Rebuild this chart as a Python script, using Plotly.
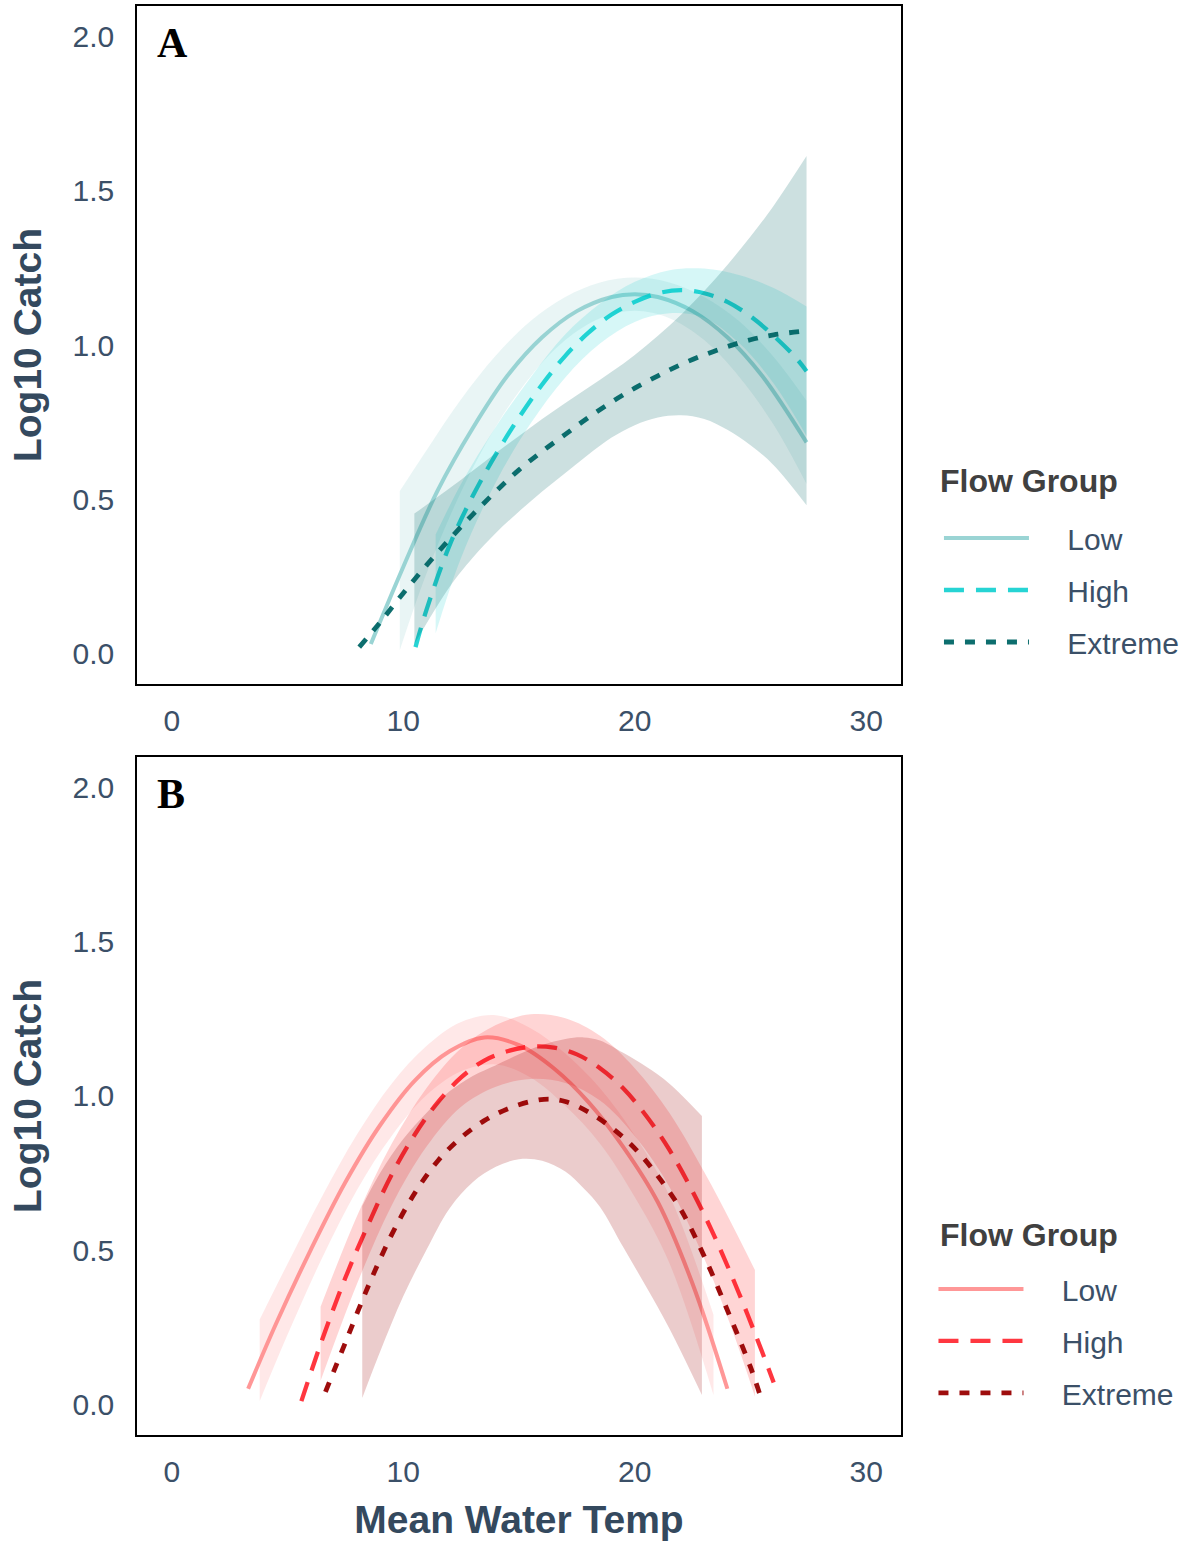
import plotly.graph_objects as go

# ---------------- Panel A (teal) ----------------
A_low_x = [8.6, 10.0, 11.5, 13.0, 14.5, 16.0, 17.5, 19.0, 20.0, 21.0, 22.5, 24.0, 25.5, 27.42]
A_low_y = [0.03, 0.28, 0.53, 0.73, 0.90, 1.025, 1.11, 1.156, 1.165, 1.156, 1.11, 1.025, 0.90, 0.684]
A_low_bx = [9.85, 11.0, 12.5, 14.0, 15.5, 17.0, 18.5, 20.0, 21.5, 23.0, 24.5, 26.0, 27.42]
A_low_up = [0.526, 0.658, 0.824, 0.966, 1.078, 1.156, 1.203, 1.219, 1.203, 1.156, 1.078, 0.961, 0.819]
A_low_lo = [0.01, 0.258, 0.524, 0.736, 0.898, 1.016, 1.087, 1.111, 1.087, 1.016, 0.898, 0.741, 0.549]

A_high_x = [10.53, 11.0, 12.0, 13.0, 14.0, 15.0, 16.0, 17.0, 18.0, 19.0, 20.0, 21.0, 22.0, 23.0, 24.0, 25.0, 26.0, 27.0, 27.42]
A_high_y = [0.02, 0.14, 0.35, 0.51, 0.645, 0.765, 0.872, 0.965, 1.04, 1.099, 1.14, 1.168, 1.178, 1.168, 1.14, 1.093, 1.03, 0.955, 0.915]
A_high_bx = [11.4, 12.5, 14.0, 15.5, 17.0, 18.5, 20.0, 21.5, 23.0, 24.5, 26.0, 27.42]
A_high_up = [0.385, 0.55, 0.735, 0.895, 1.035, 1.135, 1.205, 1.243, 1.248, 1.227, 1.185, 1.125]
A_high_lo = [0.065, 0.31, 0.555, 0.745, 0.895, 1.005, 1.075, 1.103, 1.088, 1.007, 0.875, 0.705]

A_ext_x = [8.1, 9.0, 10.0, 11.0, 12.0, 13.0, 14.0, 15.0, 16.0, 17.0, 18.0, 19.0, 20.0, 21.0, 22.0, 23.0, 24.0, 25.0, 26.0, 27.42]
A_ext_y = [0.02, 0.10, 0.195, 0.285, 0.37, 0.45, 0.525, 0.595, 0.655, 0.71, 0.765, 0.815, 0.86, 0.90, 0.937, 0.968, 0.995, 1.017, 1.033, 1.046]
A_ext_bx = [10.48, 12.0, 13.0, 14.0, 15.0, 16.0, 17.0, 18.0, 19.0, 20.0, 21.0, 22.0, 23.0, 24.0, 25.0, 26.0, 27.42]
A_ext_up = [0.453, 0.535, 0.592, 0.65, 0.705, 0.76, 0.812, 0.862, 0.913, 0.968, 1.03, 1.098, 1.175, 1.26, 1.352, 1.452, 1.613]
A_ext_lo = [0.03, 0.215, 0.31, 0.39, 0.46, 0.525, 0.585, 0.645, 0.70, 0.74, 0.765, 0.772, 0.76, 0.725, 0.675, 0.61, 0.48]

# ---------------- Panel B (red) ----------------
B_low_x = [3.3, 4.5, 6.0, 7.5, 9.0, 10.5, 12.0, 13.5, 15.0, 16.5, 18.0, 19.5, 21.0, 22.5, 24.0]
B_low_y = [0.05, 0.26, 0.50, 0.72, 0.905, 1.05, 1.145, 1.19, 1.165, 1.09, 0.98, 0.835, 0.655, 0.39, 0.05]
B_low_bx = [3.8, 5.0, 6.5, 8.0, 9.5, 11.0, 12.5, 14.0, 15.5, 17.0, 18.5, 20.0, 21.5, 23.4]
B_low_up = [0.275, 0.455, 0.675, 0.875, 1.04, 1.162, 1.24, 1.262, 1.22, 1.138, 1.025, 0.872, 0.677, 0.29]
B_low_lo = [0.01, 0.225, 0.475, 0.695, 0.87, 1.002, 1.08, 1.102, 1.06, 0.968, 0.845, 0.672, 0.457, 0.03]

B_high_x = [5.6, 6.5, 7.5, 8.5, 9.5, 10.5, 11.5, 12.5, 13.5, 14.5, 15.5, 16.5, 17.5, 18.5, 19.5, 20.5, 21.5, 22.5, 23.5, 24.5, 25.5, 26.0]
B_high_y = [0.01, 0.21, 0.41, 0.585, 0.745, 0.875, 0.98, 1.06, 1.115, 1.145, 1.16, 1.157, 1.135, 1.09, 1.025, 0.935, 0.825, 0.69, 0.535, 0.36, 0.17, 0.07]
B_high_bx = [6.43, 8.0, 9.5, 11.0, 12.5, 14.0, 15.5, 17.0, 18.5, 20.0, 21.5, 23.0, 24.2, 25.19]
B_high_up = [0.316, 0.61, 0.845, 1.025, 1.155, 1.23, 1.265, 1.252, 1.195, 1.09, 0.945, 0.753, 0.583, 0.435]
B_high_lo = [0.076, 0.39, 0.645, 0.835, 0.965, 1.03, 1.055, 1.042, 0.985, 0.87, 0.705, 0.473, 0.243, 0.025]

B_ext_x = [6.64, 7.5, 8.5, 9.5, 10.5, 11.5, 12.5, 13.5, 14.5, 15.5, 16.3, 17.0, 18.0, 19.0, 20.0, 21.0, 22.0, 23.0, 24.0, 25.0, 25.41]
B_ext_y = [0.04, 0.20, 0.385, 0.55, 0.685, 0.79, 0.865, 0.92, 0.958, 0.982, 0.99, 0.982, 0.948, 0.897, 0.83, 0.74, 0.63, 0.48, 0.305, 0.12, 0.03]
B_ext_bx = [8.23, 9.0, 10.0, 11.0, 12.0, 13.0, 14.0, 15.0, 16.0, 17.0, 17.8, 18.5, 19.5, 20.5, 21.5, 22.9]
B_ext_up = [0.643, 0.75, 0.86, 0.945, 1.015, 1.065, 1.10, 1.135, 1.165, 1.185, 1.19, 1.18, 1.14, 1.095, 1.04, 0.935]
B_ext_lo = [0.02, 0.17, 0.35, 0.50, 0.635, 0.72, 0.77, 0.795, 0.79, 0.755, 0.70, 0.64, 0.51, 0.38, 0.245, 0.03]

group_names = ["Low", "High", "Extreme"]
dash_styles = ["solid", "20px,12px", "10px,11px"]
line_widths = [4, 4.3, 4.8]
A_colors = ["rgba(143,207,207,0.9)", "rgba(0,204,204,0.85)", "rgba(0,102,102,0.95)"]
A_fills = ["rgba(143,207,207,0.2)", "rgba(0,204,204,0.16)", "rgba(0,102,102,0.2)"]
B_colors = ["rgba(255,140,140,0.9)", "rgba(255,20,30,0.85)", "rgba(153,0,0,0.95)"]
B_fills = ["rgba(255,140,140,0.2)", "rgba(255,32,32,0.19)", "rgba(153,0,0,0.2)"]

y_ticks = [0.0, 0.5, 1.0, 1.5, 2.0]
x_ticks = [0, 10, 20, 30]

FONT = "Liberation Sans, Arial, sans-serif"
NBSP = "\u00a0" * 4

fig = go.Figure()


def add_group(bx, bu, bl, lx, ly, color, fill, dash, lw, name, xa, ya, legend):
    fig.add_trace(go.Scatter(x=bx, y=bl, mode="lines", line=dict(width=0, shape="spline"),
                             showlegend=False, hoverinfo="skip", xaxis=xa, yaxis=ya))
    fig.add_trace(go.Scatter(x=bx, y=bu, mode="lines", line=dict(width=0, shape="spline"),
                             fill="tonexty", fillcolor=fill, showlegend=False,
                             hoverinfo="skip", xaxis=xa, yaxis=ya))
    fig.add_trace(go.Scatter(x=lx, y=ly, mode="lines", name=NBSP + name,
                             line=dict(color=color, width=lw, dash=dash, shape="spline"),
                             legend=legend, legendgroup=legend + name, xaxis=xa, yaxis=ya))


A_sets = [(A_low_bx, A_low_up, A_low_lo, A_low_x, A_low_y),
          (A_high_bx, A_high_up, A_high_lo, A_high_x, A_high_y),
          (A_ext_bx, A_ext_up, A_ext_lo, A_ext_x, A_ext_y)]
B_sets = [(B_low_bx, B_low_up, B_low_lo, B_low_x, B_low_y),
          (B_high_bx, B_high_up, B_high_lo, B_high_x, B_high_y),
          (B_ext_bx, B_ext_up, B_ext_lo, B_ext_x, B_ext_y)]

for i, s in enumerate(A_sets):
    add_group(*s, A_colors[i], A_fills[i], dash_styles[i], line_widths[i], group_names[i], "x", "y", "legend")
for i, s in enumerate(B_sets):
    add_group(*s, B_colors[i], B_fills[i], dash_styles[i], line_widths[i], group_names[i], "x2", "y2", "legend2")

tick_font = dict(family=FONT, size=30, color="#3B5068")
title_font = dict(family=FONT, size=39, color="#34495E")

xaxis_common = dict(range=[-1.5, 31.5], tickvals=x_ticks, showgrid=False, zeroline=False,
                    showline=True, mirror=True, linecolor="black", linewidth=1.5,
                    ticks="", tickfont=tick_font, ticklabelstandoff=9, automargin=False)
yaxis_common = dict(range=[-0.1, 2.1], tickvals=y_ticks, tickformat=".1f", showgrid=False,
                    zeroline=False, showline=True, mirror=True, linecolor="black",
                    linewidth=1.5, ticks="", tickfont=tick_font, ticklabelstandoff=15,
                    automargin=False,
                    title=dict(text="<b>Log10 Catch</b>", font=title_font, standoff=19))

legend_common = dict(font=dict(family=FONT, size=30, color="#3B5068"),
                     itemwidth=85, tracegroupgap=10, bgcolor="rgba(0,0,0,0)",
                     xanchor="left", yanchor="top")
legend_title_font = dict(family=FONT, size=32, color="#404040")

fig.update_layout(
    width=1186, height=1542,
    margin=dict(l=137, r=285, t=6, b=107, autoexpand=False),
    plot_bgcolor="white", paper_bgcolor="white",
    xaxis=dict(domain=[0, 1], anchor="y", **xaxis_common),
    yaxis=dict(domain=[0.5255, 1], anchor="x", **yaxis_common),
    xaxis2=dict(domain=[0, 1], anchor="y2",
                title=dict(text="<b>Mean Water Temp</b>", font=title_font, standoff=19),
                **xaxis_common),
    yaxis2=dict(domain=[0, 0.4745], anchor="x2", **yaxis_common),
    legend=dict(x=1.0497, y=0.6459, **legend_common),
    legend2=dict(x=1.0425, y=0.1204, **legend_common),
    annotations=[
        dict(text="<b>A</b>", xref="x domain", yref="y domain", x=0.024, y=0.945,
             xanchor="left", yanchor="middle", showarrow=False,
             font=dict(family="Liberation Serif, Times New Roman, serif", size=42, color="black")),
        dict(text="<b>B</b>", xref="x2 domain", yref="y2 domain", x=0.024, y=0.945,
             xanchor="left", yanchor="middle", showarrow=False,
             font=dict(family="Liberation Serif, Times New Roman, serif", size=42, color="black")),
        dict(text="<b>Flow Group</b>", xref="paper", yref="paper", x=1.0484, y=0.6676,
             xanchor="left", yanchor="middle", showarrow=False,
             font=legend_title_font),
        dict(text="<b>Flow Group</b>", xref="paper", yref="paper", x=1.0484, y=0.14,
             xanchor="left", yanchor="middle", showarrow=False,
             font=legend_title_font),
    ],
)

fig.write_html("out.html", config={"displayModeBar": False},
               post_script="document.body.style.margin='0px';")
